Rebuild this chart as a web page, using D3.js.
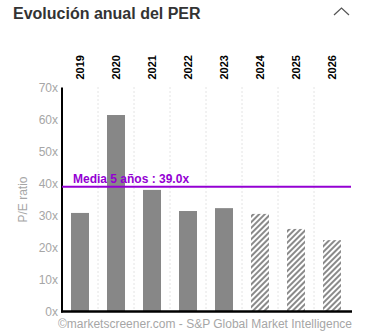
<!DOCTYPE html>
<html>
<head>
<meta charset="utf-8">
<script src="https://cdn.jsdelivr.net/npm/d3@7"></script>
<style>
	body { margin:0; background:#fff; font-family: Arial, "Liberation Sans", sans-serif; }
</style>
</head>
<body>
<svg id="chart"></svg>
<script>
/*************** data *****************/
var years = ["2019","2020","2021","2022","2023","2024","2025","2026"];
var perValues = [30.8, 61.4, 38.0, 31.4, 32.3, 30.5, 25.8, 22.3];
var estimated = [false, false, false, false, false, true, true, true];
var yTicks = [0, 10, 20, 30, 40, 50, 60, 70];
var meanValue = 39.0;
var meanLabel = "Media 5 años : 39.0x";

/*************** settings *****************/
var width = 368,
	height = 334,
	margin = {top:87.5, right:18, bottom:22.5, left:62},
	innerWidth = width - margin.left - margin.right,
	innerHeight = height - margin.top - margin.bottom;

var svg = d3.select("#chart")
	.attr("width", width)
	.attr("height", height);

// hatch pattern for estimates
var defs = svg.append("defs");
defs.append("pattern")
	.attr("id", "hatch")
	.attr("patternUnits", "userSpaceOnUse")
	.attr("width", 4)
	.attr("height", 4)
	.attr("patternTransform", "rotate(45)")
  .append("rect")
	.attr("width", 2)
	.attr("height", 4)
	.attr("fill", "#8a8a8a");

// title + caret
svg.append("text")
	.attr("x", 13)
	.attr("y", 19)
	.attr("fill", "#333")
	.style("font-size", "16px")
	.style("font-weight", "bold")
	.text("Evolución anual del PER");

svg.append("path")
	.attr("d", "M334,15 L341.5,8 L349,15")
	.attr("fill", "none")
	.attr("stroke", "#555")
	.attr("stroke-width", 1.2);

var g = svg.append("g")
	.attr("transform", "translate(" + margin.left + "," + margin.top + ")");

/*************** scales *****************/
var x = d3.scaleBand()
	.domain(years)
	.range([0, 36 * years.length])
	.paddingInner(0.5)
	.paddingOuter(0.25);

var y = d3.scaleLinear()
	.domain([0, 70])
	.range([innerHeight, 0]);

/*************** grid *****************/
g.append("g")
	.selectAll("line")
	.data(years.slice(1))
	.enter()
	.append("line")
	.attr("x1", function(d){ return x(d) - x.step() * x.paddingInner() / 2; })
	.attr("x2", function(d){ return x(d) - x.step() * x.paddingInner() / 2; })
	.attr("y1", 0)
	.attr("y2", innerHeight)
	.attr("stroke", "#c8c8c8")
	.attr("stroke-width", 1)
	.attr("stroke-dasharray", "1,3");

/*************** bars *****************/
g.append("g")
	.selectAll("rect")
	.data(years)
	.enter()
	.append("rect")
	.attr("x", function(d){ return x(d); })
	.attr("y", function(d,i){ return y(perValues[i]); })
	.attr("width", x.bandwidth())
	.attr("height", function(d,i){ return innerHeight - y(perValues[i]); })
	.attr("fill", function(d,i){ return estimated[i] ? "url(#hatch)" : "#878787"; });

/*************** axes *****************/
var yAxis = g.append("g")
	.call(d3.axisLeft(y).tickValues(yTicks).tickSize(0).tickPadding(4)
		.tickFormat(function(d){ return d + "x"; }));
yAxis.select(".domain").remove();
yAxis.selectAll("text")
	.attr("fill", "#a6a6a6")
	.style("font-size", "12px")
	.style("font-family", "Arial, 'Liberation Sans', sans-serif");

var xAxis = g.append("g")
	.call(d3.axisTop(x).tickSize(0).tickPadding(0));
xAxis.select(".domain").remove();
xAxis.selectAll("text")
	.attr("transform", "rotate(-90)")
	.attr("x", 8)
	.attr("y", 0)
	.attr("dy", "0.35em")
	.style("text-anchor", "start")
	.attr("fill", "#000")
	.style("font-size", "11px")
	.style("font-weight", "bold")
	.style("font-family", "Arial, 'Liberation Sans', sans-serif");

// axis lines
g.append("line")
	.attr("x1", 0).attr("x2", 0)
	.attr("y1", 0).attr("y2", innerHeight + 1)
	.attr("stroke", "#000").attr("stroke-width", 2);
g.append("line")
	.attr("x1", -1).attr("x2", innerWidth + 2)
	.attr("y1", innerHeight).attr("y2", innerHeight)
	.attr("stroke", "#000").attr("stroke-width", 2.5);

// y label
svg.append("text")
	.attr("transform", "translate(27," + (margin.top + innerHeight / 2) + ") rotate(-90)")
	.attr("fill", "#a6a6a6")
	.style("text-anchor", "middle")
	.style("font-size", "12px")
	.text("P/E ratio");

/*************** mean line *****************/
g.append("line")
	.attr("x1", 0)
	.attr("x2", innerWidth + 1)
	.attr("y1", y(meanValue))
	.attr("y2", y(meanValue))
	.attr("stroke", "#9400d3")
	.attr("stroke-width", 2);

g.append("text")
	.attr("x", 11)
	.attr("y", y(meanValue) - 4)
	.attr("fill", "#9400d3")
	.style("font-size", "12px")
	.style("font-weight", "bold")
	.text(meanLabel);

/*************** credits *****************/
svg.append("text")
	.attr("x", 352)
	.attr("y", 328)
	.attr("fill", "#a6a6a6")
	.style("text-anchor", "end")
	.style("font-size", "12px")
	.text("©marketscreener.com - S&P Global Market Intelligence");
</script>
</body>
</html>
